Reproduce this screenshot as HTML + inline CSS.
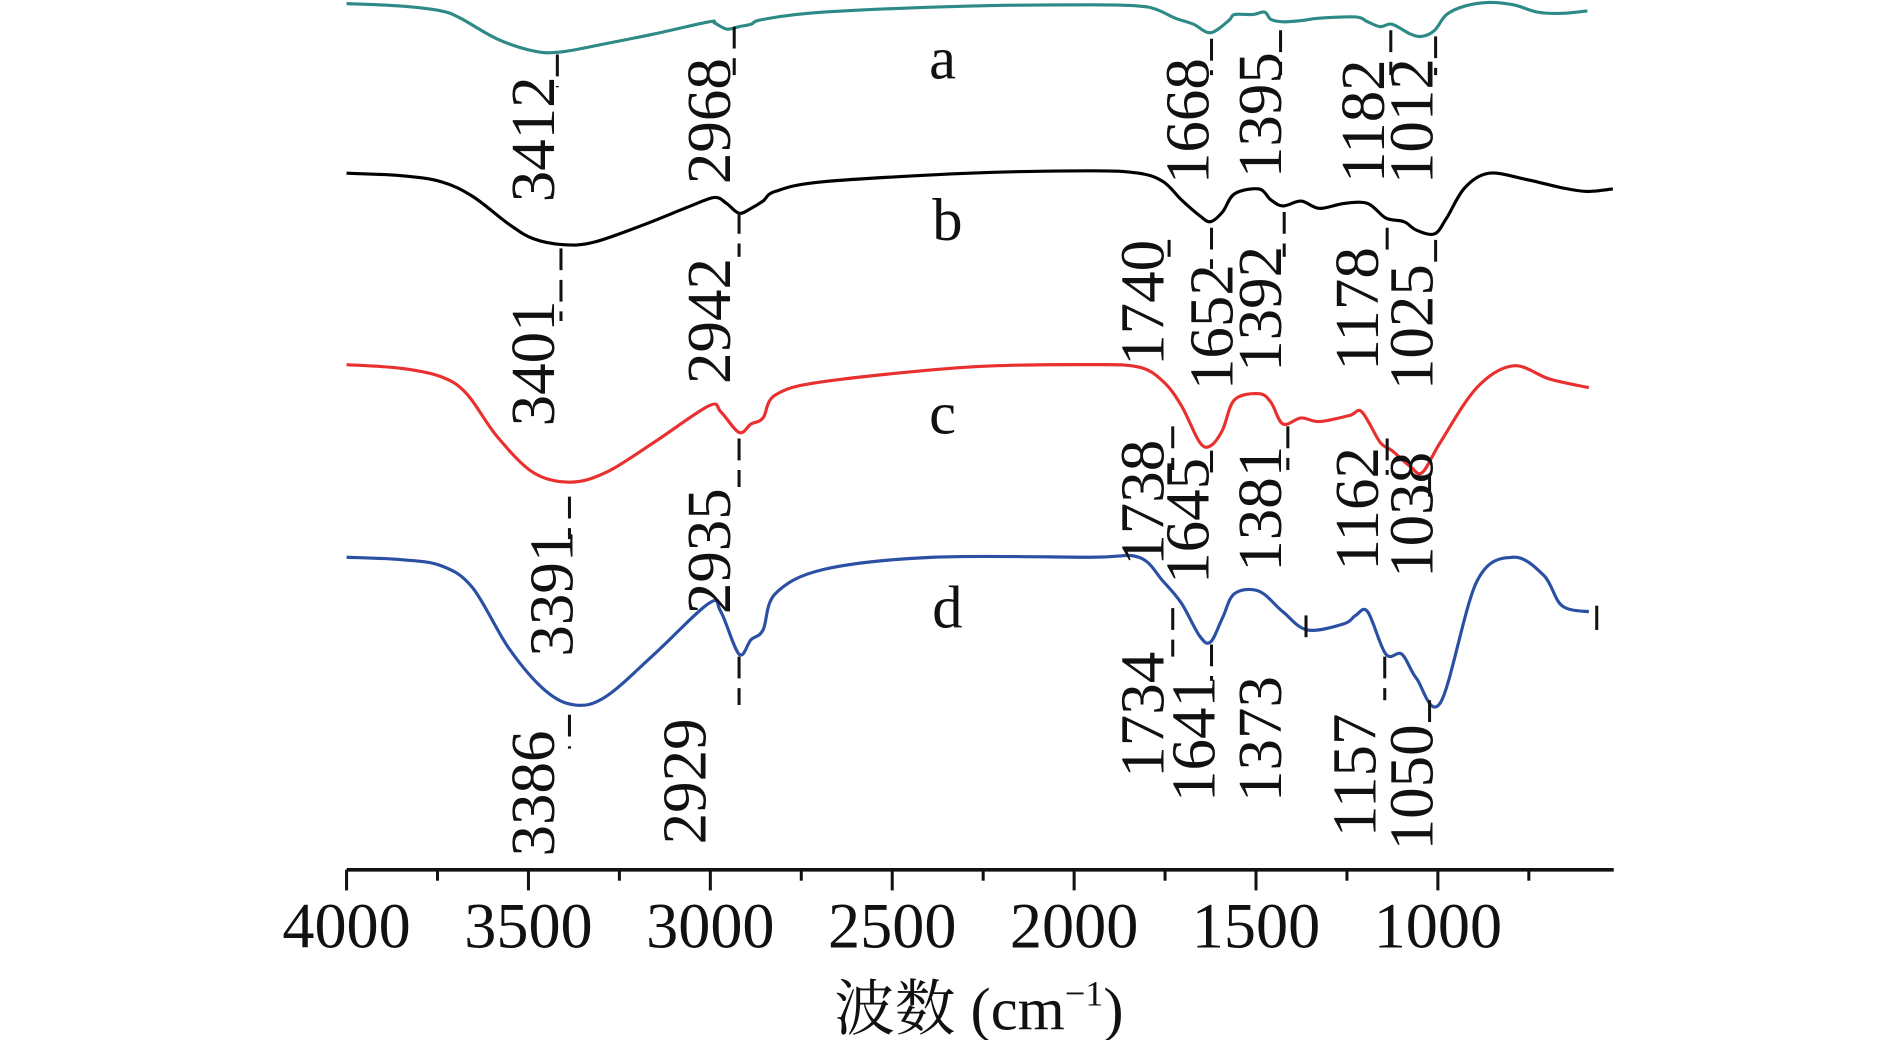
<!DOCTYPE html>
<html><head><meta charset="utf-8">
<style>
html,body{margin:0;padding:0;background:#fff;}
svg{display:block;}
text{font-family:"Liberation Serif","Noto Serif CJK SC",serif;fill:#111;}
</style></head>
<body>
<svg id="chart" width="1890" height="1040" viewBox="0 0 1560 858.5" xmlns="http://www.w3.org/2000/svg">
<g id="axis"></g>
<g id="curves"></g>
<g id="annots"></g>
<text x="808" y="850" font-size="50" text-anchor="middle">波数 (cm<tspan font-size="30" dy="-20">−1</tspan><tspan dy="20">)</tspan></text>
</svg>
<script>
// wavenumbers (cm-1) for each series and relative transmittance values
const wnA=[4000,3850,3740,3687,3587,3487,3414,3287,3154,3004,2988,2955,2921,2888,2855,2688,2288,1955,1822,1772,1722,1672,1625,1575,1559,1509,1476,1459,1426,1376,1326,1226,1193,1159,1126,1076,1043,1009,976,926,859,792,726,659,589];
const tA=[715,713,709,703,686,676,675,682,690,700,699,694,696,698,702,708,713,714,713,710,703,698,691,701,706,706,708,702,700,701,703,704,700,696,698,690,688,693,706,713,716,714,708,707,709];
const wnB=[4000,3850,3740,3654,3554,3487,3404,3321,3187,3054,2988,2955,2921,2888,2855,2821,2688,2288,1955,1822,1755,1705,1655,1625,1592,1559,1492,1459,1426,1376,1326,1259,1193,1143,1093,1059,1009,976,926,859,759,659,592,519];
const tB=[575,573,568,556,533,521,516,518,532,548,555,550,542,546,552,560,568,575,577,575,568,553,540,535,543,558,562,553,548,552,546,550,550,538,535,528,525,538,563,575,570,563,560,562];
const wnC=[4000,3850,3740,3670,3587,3487,3387,3287,3154,3004,2971,2921,2888,2855,2821,2688,2288,1955,1822,1755,1705,1655,1625,1592,1559,1492,1459,1426,1376,1326,1243,1209,1159,1126,1076,1043,993,893,793,692,585];
const tC=[417,414,407,393,358,328,320,328,353,383,378,361,368,373,392,403,415,417,415,403,383,353,350,363,388,393,386,368,373,370,375,378,353,346,333,328,353,398,416,405,398];
const wnD=[4000,3850,3740,3654,3554,3454,3371,3287,3154,3004,2971,2921,2888,2855,2821,2688,2388,1955,1822,1755,1705,1655,1625,1592,1559,1492,1426,1359,1259,1226,1193,1143,1099,1059,993,893,793,709,659,585];
const tD=[258,256,251,233,183,148,136,143,178,220,213,178,190,198,228,248,258,258,258,238,220,193,188,208,228,230,213,198,203,210,213,178,178,158,138,238,258,243,218,213];
const majorTicks=[4000,3500,3000,2500,2000,1500,1000];
const minorTicks=[3750,3250,2750,2250,1750,1250,750];
const peakLabels=["3412","2968","1668","1395","1182","1012","3401","2942","1740","1652","1392","1178","1025","3391","2935","1738","1645","1381","1162","1038","3386","2929","1734","1641","1373","1157","1050"];
const seriesNames=["a","b","c","d"];

const NS="http://www.w3.org/2000/svg";
const X0=286,X1=1332,W0=4000,W1=516.7;
function xs(w){return X0+(W0-w)*(X1-X0)/(W0-W1);}
function ys(t){return 718-t;}
function mk(tag,attrs,parent){const e=document.createElementNS(NS,tag);for(const k in attrs)e.setAttribute(k,attrs[k]);parent.appendChild(e);return e;}
function smooth(P){
  let d='M'+P[0][0].toFixed(1)+' '+P[0][1].toFixed(1);
  for(let i=0;i<P.length-1;i++){
    const p0=P[i-1]||P[i],p1=P[i],p2=P[i+1],p3=P[i+2]||P[i+1];
    const c1=[p1[0]+(p2[0]-p0[0])/6,p1[1]+(p2[1]-p0[1])/6];
    const c2=[p2[0]-(p3[0]-p1[0])/6,p2[1]-(p3[1]-p1[1])/6];
    d+=` C${c1[0].toFixed(1)} ${c1[1].toFixed(1)} ${c2[0].toFixed(1)} ${c2[1].toFixed(1)} ${p2[0].toFixed(1)} ${p2[1].toFixed(1)}`;
  }
  return d;
}

const ax=document.getElementById('axis');
const axl=mk('line',{x1:X0,y1:718,x2:X1,y2:718,stroke:'#111','stroke-width':3},ax);


majorTicks.forEach(w=>{
  const t=mk('line',{x1:xs(w),y1:718,x2:xs(w),y2:735,stroke:'#111','stroke-width':2.5},ax);
  
  
  const l=mk('text',{x:xs(w),y:782,'font-size':53,'text-anchor':'middle'},ax);
  l.textContent=w;
  
  
});
minorTicks.forEach(w=>{
  const t=mk('line',{x1:xs(w),y1:718,x2:xs(w),y2:727,stroke:'#111','stroke-width':2.5},ax);
  
  
});

const cv=document.getElementById('curves');
const series=[[wnA,tA,'#2e8a86'],[wnB,tB,'#000'],[wnC,tC,'#e8302e'],[wnD,tD,'#2a4fa3']];
series.forEach((s,i)=>{
  const pts=s[0].map((w,j)=>[xs(w),ys(s[1][j])]);
  const p=mk('path',{d:smooth(pts),fill:'none',stroke:s[2],'stroke-width':2.6,'stroke-linejoin':'round'},cv);
  
  
});
const letterPos=[[778,65],[782,198],[778,358],[782,518]];
seriesNames.forEach((n,i)=>{
  const t=mk('text',{x:letterPos[i][0],y:letterPos[i][1],'font-size':50,'text-anchor':'middle'},cv);
  t.textContent=n;
  
  
});

// annotation layout: [text cx, text cy, dash x, dash y1, dash y2]
const lay=[[440,115,460,45,72],[585,100,606,22,62],[980,100,1000,32,62],[1040,95,1057,25,62],[1125,100,1148,25,62],[1165,100,1185,30,62],
[440,300,463,205,265],[585,265,610,175,212],[943,250,965,198,212],[1000,270,1000,188,222],[1040,255,1060,175,212],[1120,255,1145,188,212],[1165,270,1185,198,222],
[455,490,470,410,445],[585,455,610,362,402],[943,415,968,352,388],[980,430,1000,372,392],[1040,420,1063,352,388],[1120,420,1145,362,392],[1165,425,1180,392,412],
[440,655,470,590,618],[565,645,610,542,582],[943,590,968,502,542],[985,610,1000,532,562],[1040,610,1078,508,532],[1118,640,1143,542,578],[1165,650,1180,578,602]];
const an=document.getElementById('annots');
peakLabels.forEach((lab,i)=>{
  const L=lay[i];
  const dl=mk('line',{x1:L[2],y1:L[3],x2:L[2],y2:L[4],stroke:'#111','stroke-width':2.5,'stroke-dasharray':'18 8'},an);
  
  
  const t=mk('text',{x:0,y:0,'font-size':52,'text-anchor':'middle','dominant-baseline':'central',transform:`translate(${L[0]},${L[1]}) rotate(-90)`},an);
  t.textContent=lab;
  
  
});
const ex=mk('line',{x1:1318,y1:500,x2:1318,y2:520,stroke:'#111','stroke-width':2.5},an);


</script>
</body></html>
